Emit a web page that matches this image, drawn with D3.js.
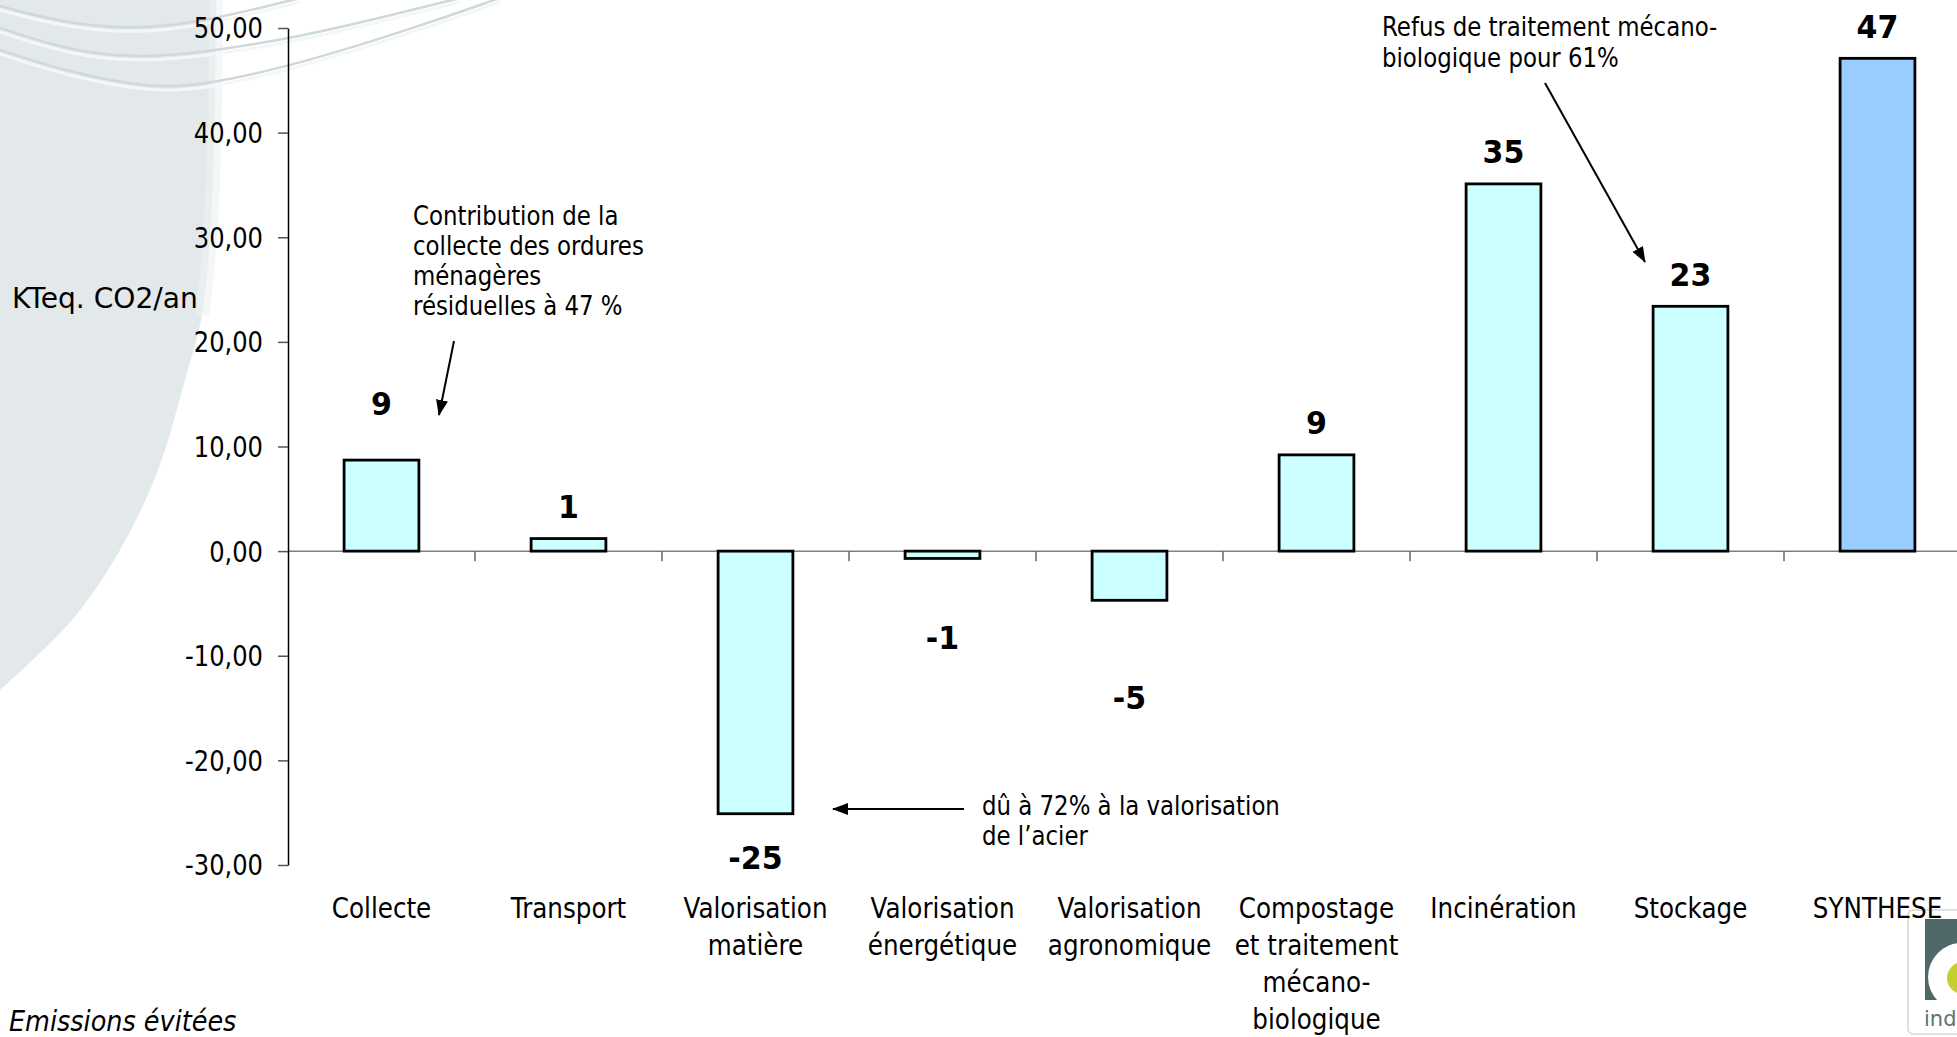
<!DOCTYPE html>
<html>
<head>
<meta charset="utf-8">
<script src="https://cdn.jsdelivr.net/npm/d3@7"></script>
<style>
  html, body { margin: 0; padding: 0; background: #fff; overflow: hidden; }
  svg { display: block; }
</style>
</head>
<body>
<svg id="chart" width="1957" height="1037"></svg>
<script>
// Emissions de gaz à effet de serre par étape de gestion des déchets (KTeq. CO2/an)
const categories = [
  "Collecte",
  "Transport",
  "Valorisation\nmatière",
  "Valorisation\nénergétique",
  "Valorisation\nagronomique",
  "Compostage\net traitement\nmécano-\nbiologique",
  "Incinération",
  "Stockage",
  "SYNTHESE"
];
const values = [8.7, 1.2, -25.1, -0.7, -4.7, 9.2, 35.1, 23.4, 47.1];
const yTickValues = [-30, -20, -10, 0, 10, 20, 30, 40, 50];
const yTitle = "KTeq. CO2/an";
const footnote = "Emissions évitées";

// extra distance (px) pushing some value labels away from their bar
const labelNudge = [25, 0, 0, 35, 53, 0, 0, 0, 0];

const W = 1957, H = 1037;
const FONT = "'DejaVu Sans', Verdana, sans-serif";
const SQ = 0.88;          // horizontal squeeze for the Tahoma-like look
const svg = d3.select("#chart");

const fr = d3.formatLocale({
  decimal: ",", thousands: "\u00a0", grouping: [3],
  currency: ["", "\u00a0€"], minus: "-"
});

// ---- background decoration (template shape and swooshes) ----
const deco = svg.append("g");
const edge = d3.line().curve(d3.curveCatmullRom);
const shapePts = [[216, 0], [214, 150], [209, 250], [202, 315], [185, 380],
                  [158, 470], [120, 550], [72, 620], [0, 690]];
deco.append("path")
  .attr("d", edge(shapePts) + "L0,0Z")
  .attr("fill", "#e3e9ea");
deco.append("path")
  .attr("d", edge([[216, 0], [214, 150], [209, 250], [202, 315]]))
  .attr("fill", "none").attr("stroke", "#edf1f2").attr("stroke-width", 14).attr("opacity", 0.6);

const swoosh = d3.line().curve(d3.curveBasis);
const waves = [
  [[0, 6], [60, 22], [130, 30], [200, 22], [260, 8], [300, -2]],
  [[0, 28], [67, 50], [133, 58], [200, 53], [300, 37], [400, 13], [460, -2]],
  [[0, 50], [67, 72], [150, 88], [200, 86], [300, 64], [420, 26], [500, -2]]
];
waves.forEach(pts => {
  deco.append("path").attr("d", swoosh(pts))
    .attr("fill", "none").attr("stroke", "#cfd8da").attr("stroke-width", 2.5);
  deco.append("path").attr("d", swoosh(pts.map(p => [p[0], p[1] + 4])))
    .attr("fill", "none").attr("stroke", "#f4f7f7").attr("stroke-width", 3);
});

// ---- logo in the bottom-right corner ----
const logo = svg.append("g");
logo.append("rect").attr("x", 1908).attr("y", 910).attr("width", 70).attr("height", 124)
  .attr("rx", 5).attr("fill", "#fff").attr("stroke", "#d6d6d6").attr("stroke-width", 1.5);
logo.append("rect").attr("x", 1925).attr("y", 919).attr("width", 40).attr("height", 81)
  .attr("fill", "#4e6968");
logo.append("circle").attr("cx", 1962).attr("cy", 977).attr("r", 34).attr("fill", "#fff");
logo.append("circle").attr("cx", 1963).attr("cy", 978).attr("r", 16).attr("fill", "#c6cf2d");
logo.append("text").attr("x", 1924).attr("y", 1026)
  .attr("font-family", FONT).attr("font-size", 21).attr("fill", "#5b7473").text("ind");

// ---- scales ----
const x = d3.scaleBand().domain(categories)
  .range([288, 288 + 9 * 187]).paddingInner(0.6).paddingOuter(0.3);
const y = d3.scaleLinear().domain([-30, 50]).range([865, 28]);

// zero line with category separators
svg.append("line")
  .attr("x1", 288).attr("x2", W).attr("y1", y(0)).attr("y2", y(0))
  .attr("stroke", "#808080").attr("stroke-width", 1.5);
svg.append("g").selectAll("line")
  .data(categories)
  .join("line")
  .attr("x1", d => x(d) + x.bandwidth() + x.step() * x.paddingInner() / 2)
  .attr("x2", d => x(d) + x.bandwidth() + x.step() * x.paddingInner() / 2)
  .attr("y1", y(0)).attr("y2", y(0) + 10)
  .attr("stroke", "#666").attr("stroke-width", 1.5);

// y axis
const yAxis = d3.axisLeft(y).tickValues(yTickValues)
  .tickSize(10).tickSizeOuter(0).tickFormat(fr.format(".2f"));
const gy = svg.append("g").attr("transform", "translate(288,0)").call(yAxis);
gy.select(".domain").attr("stroke", "#000").attr("stroke-width", 1.5);
gy.selectAll(".tick line").attr("stroke", "#555").attr("stroke-width", 1.5);
gy.selectAll(".tick text")
  .attr("font-family", FONT).attr("font-size", 27.5).attr("fill", "#000")
  .attr("x", 0).attr("dy", "0.36em")
  .attr("transform", `translate(-25,0) scale(${SQ},1)`);

// bars
const data = categories.map((c, i) => ({ c, v: values[i], i }));
svg.append("g").selectAll("rect")
  .data(data)
  .join("rect")
  .attr("x", d => x(d.c))
  .attr("y", d => y(Math.max(0, d.v)))
  .attr("width", x.bandwidth())
  .attr("height", d => Math.abs(y(d.v) - y(0)))
  .attr("fill", d => d.i === data.length - 1 ? "#99ccff" : "#ccffff")
  .attr("stroke", "#000").attr("stroke-width", 2.8);

// value labels
const fmtLabel = fr.format(".0f");
svg.append("g").selectAll("text")
  .data(data)
  .join("text")
  .attr("transform", d => {
    const cx = x(d.c) + x.bandwidth() / 2;
    const cy = d.v >= 0 ? y(d.v) - 32 - labelNudge[d.i] : y(d.v) + 44 + labelNudge[d.i];
    return `translate(${cx},${cy}) scale(0.94,1)`;
  })
  .attr("text-anchor", "middle").attr("dy", "0.36em")
  .attr("font-family", FONT).attr("font-weight", "bold").attr("font-size", 32)
  .text(d => fmtLabel(d.v));

// category labels
const cat = svg.append("g").selectAll("text")
  .data(categories)
  .join("text")
  .attr("transform", d => `translate(${x(d) + x.bandwidth() / 2},918) scale(${SQ},1)`)
  .attr("text-anchor", "middle")
  .attr("font-family", FONT).attr("font-size", 28).attr("fill", "#000");
cat.selectAll("tspan")
  .data(d => d.split("\n"))
  .join("tspan")
  .attr("x", 0).attr("dy", (d, i) => i === 0 ? 0 : 37)
  .text(d => d);

// axis title and footnote
svg.append("text")
  .attr("transform", `translate(12,308) scale(0.97,1)`)
  .attr("font-family", FONT).attr("font-size", 29).text(yTitle);
svg.append("text")
  .attr("transform", `translate(9,1031) scale(${SQ},1)`)
  .attr("font-family", FONT).attr("font-size", 29).attr("font-style", "italic").text(footnote);

// ---- annotations ----
const defs = svg.append("defs");
defs.append("marker")
  .attr("id", "head").attr("viewBox", "0 0 16 12")
  .attr("refX", 15).attr("refY", 6)
  .attr("markerWidth", 16).attr("markerHeight", 12)
  .attr("markerUnits", "userSpaceOnUse").attr("orient", "auto")
  .append("path").attr("d", "M0,0L16,6L0,12Z").attr("fill", "#000");

function note(lines, x0, y0, lh) {
  const t = svg.append("text")
    .attr("transform", `translate(${x0},${y0}) scale(${SQ},1)`)
    .attr("font-family", FONT).attr("font-size", 26).attr("fill", "#000");
  t.selectAll("tspan").data(lines).join("tspan")
    .attr("x", 0).attr("dy", (d, i) => i === 0 ? 0 : lh).text(d => d);
}
function arrow(x1, y1, x2, y2) {
  svg.append("line")
    .attr("x1", x1).attr("y1", y1).attr("x2", x2).attr("y2", y2)
    .attr("stroke", "#000").attr("stroke-width", 2)
    .attr("marker-end", "url(#head)");
}

note(["Contribution de la", "collecte des ordures", "ménagères", "résiduelles à 47 %"], 413, 225, 30);
arrow(454, 341, 439, 415);

note(["Refus de traitement mécano-", "biologique pour 61%"], 1382, 36, 31);
arrow(1545, 83, 1645, 262);

note(["dû à 72% à la valorisation", "de l\u2019acier"], 982, 815, 30);
arrow(964, 809, 833, 809);
</script>
</body>
</html>
